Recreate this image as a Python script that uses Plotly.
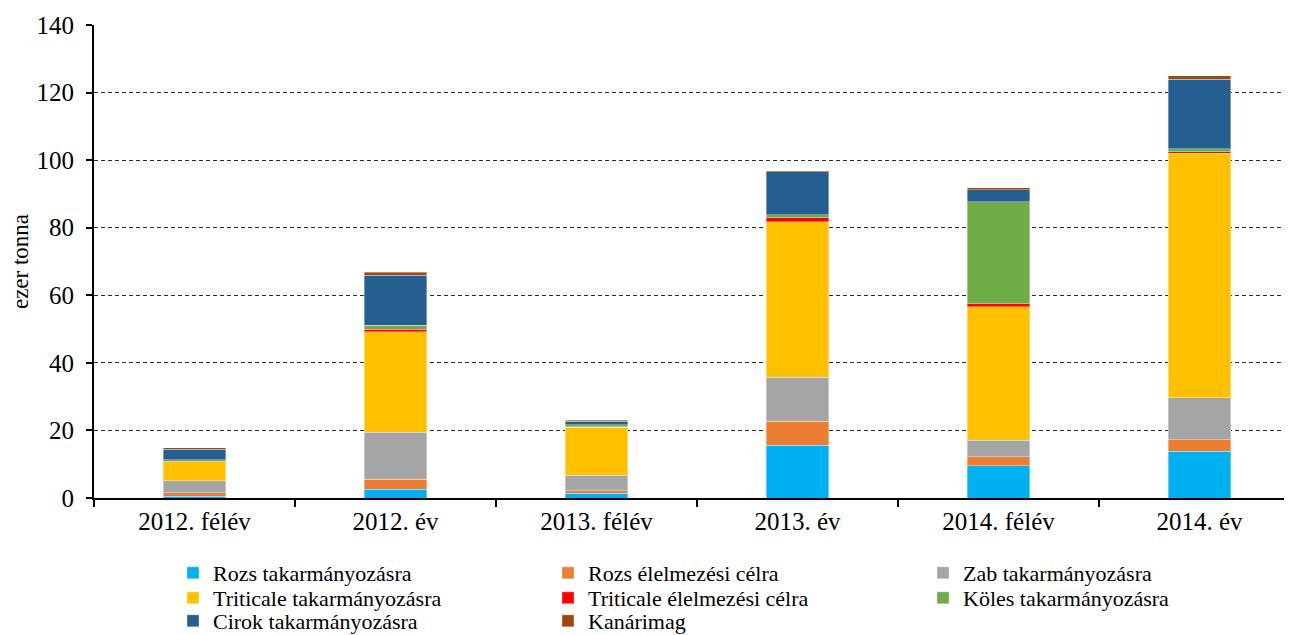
import plotly.graph_objects as go

categories = ["2012. félév", "2012. év", "2013. félév", "2013. év", "2014. félév", "2014. év"]

rozs_takarmany = [0.5, 2.6, 1.4, 15.6, 9.6, 13.9]
rozs_elelmezes = [1.1, 3.0, 0.7, 7.1, 2.6, 3.4]
zab_takarmany = [3.5, 13.9, 4.7, 13.1, 4.9, 12.3]
triticale_takarmany = [5.7, 29.7, 14.2, 45.9, 39.5, 72.4]
triticale_elelmezes = [0.1, 0.8, 0.1, 1.3, 0.9, 0.5]
koles_takarmany = [0.4, 1.2, 0.6, 0.8, 30.2, 0.9]
cirok_takarmany = [3.2, 14.7, 1.0, 12.7, 3.5, 20.5]
kanarimag = [0.4, 0.9, 0.3, 0.3, 0.7, 1.1]

series = [
    ("Rozs takarmányozásra", rozs_takarmany, "#00B0F0", "legend"),
    ("Rozs élelmezési célra", rozs_elelmezes, "#ED7D31", "legend"),
    ("Zab takarmányozásra", zab_takarmany, "#A5A5A5", "legend"),
    ("Triticale takarmányozásra", triticale_takarmany, "#FFC000", "legend2"),
    ("Triticale élelmezési célra", triticale_elelmezes, "#FF0000", "legend2"),
    ("Köles takarmányozásra", koles_takarmany, "#70AD47", "legend2"),
    ("Cirok takarmányozásra", cirok_takarmany, "#255E91", "legend3"),
    ("Kanárimag", kanarimag, "#9E480E", "legend3"),
]

font_family = "Liberation Serif, Times New Roman, serif"
# the page body adds an 8px offset; size the figure to fill the rest of the window
OFF = 8
W, H = 1292 - OFF, 635 - OFF

fig = go.Figure()
for name, vals, color, leg in series:
    fig.add_trace(go.Bar(
        x=categories, y=vals, name=name, legend=leg,
        marker=dict(color=color, line=dict(color="rgba(255,255,255,0.6)", width=0.6)),
        width=0.31,
    ))

legend_common = dict(
    orientation="h",
    xref="container", yref="container",
    x=(173 - OFF) / W, xanchor="left",
    yanchor="middle",
    entrywidth=330, entrywidthmode="pixels",
    font=dict(size=22, family=font_family, color="black"),
    itemwidth=30,
    traceorder="normal",
    bgcolor="rgba(0,0,0,0)",
)

fig.update_layout(
    barmode="stack",
    width=W, height=H,
    margin=dict(l=94 - OFF, r=0, t=25 - OFF, b=H - (498 - OFF)),
    plot_bgcolor="white", paper_bgcolor="white",
    font=dict(family=font_family, size=24, color="black"),
    legend=dict(legend_common, y=1 - (573 - OFF) / H),
    legend2=dict(legend_common, y=1 - (598 - OFF) / H),
    legend3=dict(legend_common, y=1 - (621 - OFF) / H),
    xaxis=dict(
        range=[-0.5, 5.46],
        automargin=False,
        showline=True, linecolor="black", linewidth=2,
        ticks="outside", tickson="boundaries", ticklen=7, tickwidth=2, tickcolor="black",
        showgrid=False,
        tickfont=dict(size=25),
        ticklabelstandoff=0,
    ),
    yaxis=dict(
        range=[0, 140], dtick=20,
        automargin=False,
        showline=True, linecolor="black", linewidth=2,
        ticks="outside", ticklen=6, tickwidth=2, tickcolor="black",
        showgrid=True, gridcolor="#2a2a2a", gridwidth=1, griddash="4px,3px",
        zeroline=False,
        tickfont=dict(size=25),
        ticklabelstandoff=7,
        title=dict(text="ezer tonna", font=dict(size=23), standoff=4),
    ),
)

fig.write_html("out.html")
